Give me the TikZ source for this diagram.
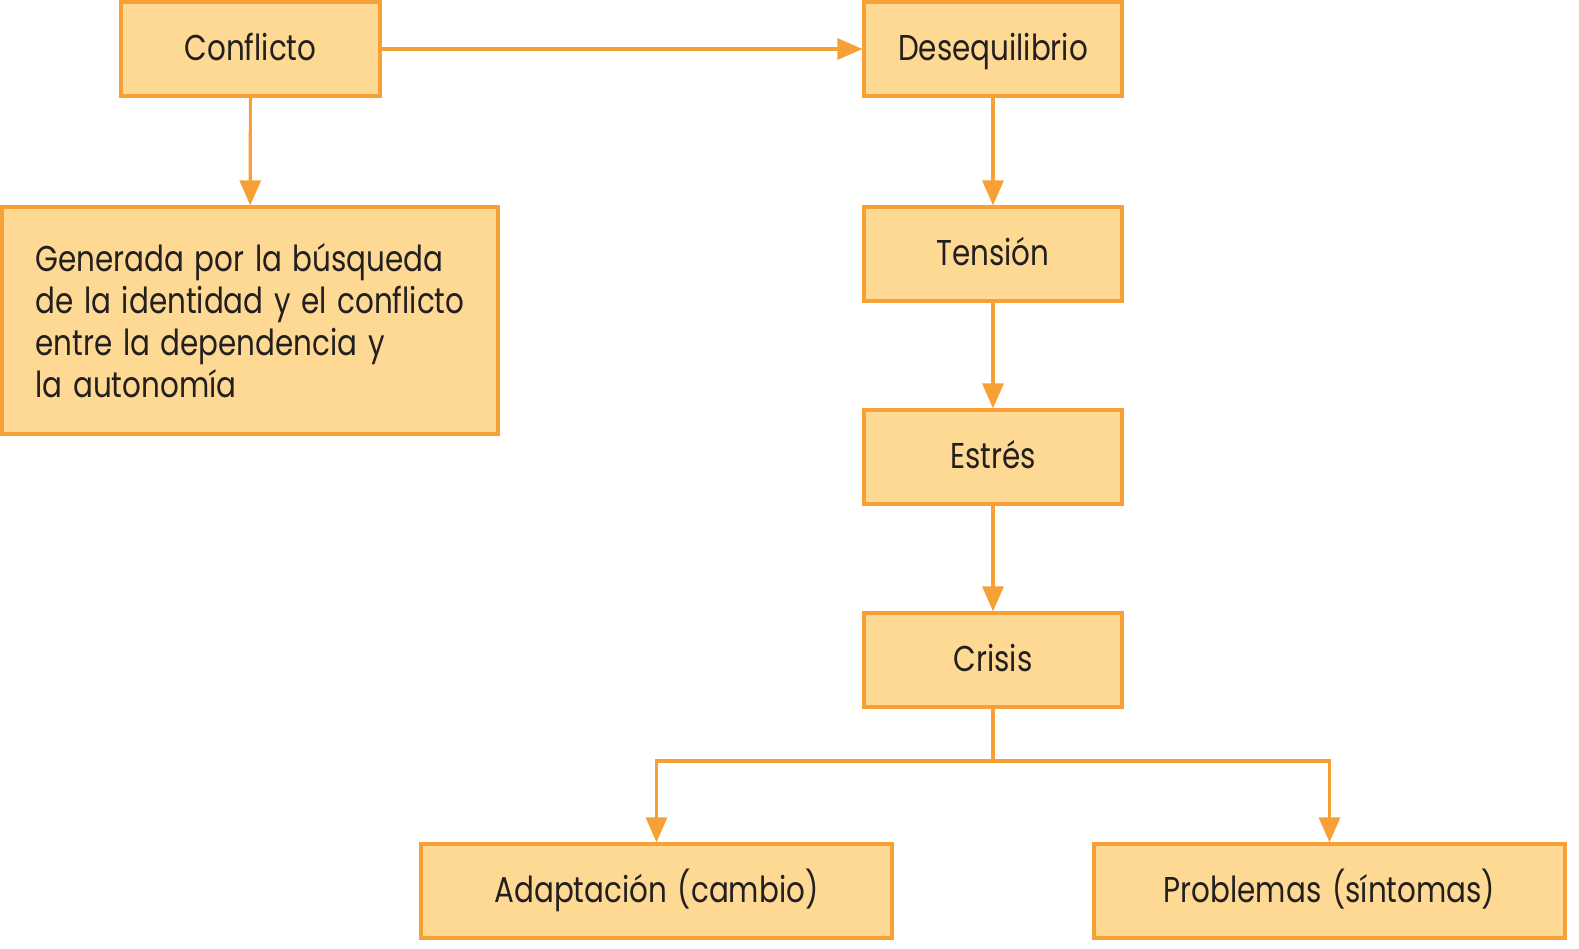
\documentclass[tikz,border=0pt]{standalone}
\usepackage{fontspec}
\setmainfont{Poppins}[FakeStretch=0.82,WordSpace=1.35]
\usetikzlibrary{arrows.meta}
\definecolor{boxline}{HTML}{F6A035}
\definecolor{boxfill}{HTML}{FDD993}
\definecolor{textc}{HTML}{231F20}
\begin{document}
\begin{tikzpicture}[x=1bp,y=-1bp,
  box/.style={draw=boxline,fill=boxfill,line width=3.2bp,text=textc,font=\fontsize{36}{42}\selectfont,inner sep=0pt},
  single/.style={box,text height=22bp,text depth=0bp},
  conn/.style={draw=boxline,line width=3.2bp,-{Triangle[length=25bp,width=21bp]}}]
\useasboundingbox (0,0) rectangle (1579,948);
\node[single,minimum width=259bp,minimum height=94bp] (conf) at (250.5,49) {Conflicto};
\node[single,minimum width=258bp,minimum height=94bp] (deseq) at (993,49) {Desequilibrio};
\node[box,minimum width=496bp,minimum height=227bp,align=left] (gen) at (250,320.5) {Generada por la búsqueda\\de la identidad y el conflicto\\entre la dependencia y\\la autonomía};
\node[single,minimum width=258bp,minimum height=94bp] (tens) at (993,254) {Tensión};
\node[single,minimum width=258bp,minimum height=94bp] (estr) at (993,457) {Estrés};
\node[single,minimum width=258bp,minimum height=94bp] (cris) at (993,660) {Crisis};
\node[single,minimum width=471bp,minimum height=94bp] (adap) at (656.5,891) {Adaptación (cambio)};
\node[single,minimum width=471bp,minimum height=94bp] (prob) at (1329.5,891) {Problemas (síntomas)};
\coordinate (br) at (993,761);
\draw[conn] (conf) -- (deseq);
\draw[conn] (conf) -- (gen);
\draw[conn] (deseq) -- (tens);
\draw[conn] (tens) -- (estr);
\draw[conn] (estr) -- (cris);
\draw[draw=boxline,line width=3.2bp] (cris) -- (br);
\draw[conn] (br) -| (adap.north);
\draw[conn] (br) -| (prob.north);
\end{tikzpicture}
\end{document}
